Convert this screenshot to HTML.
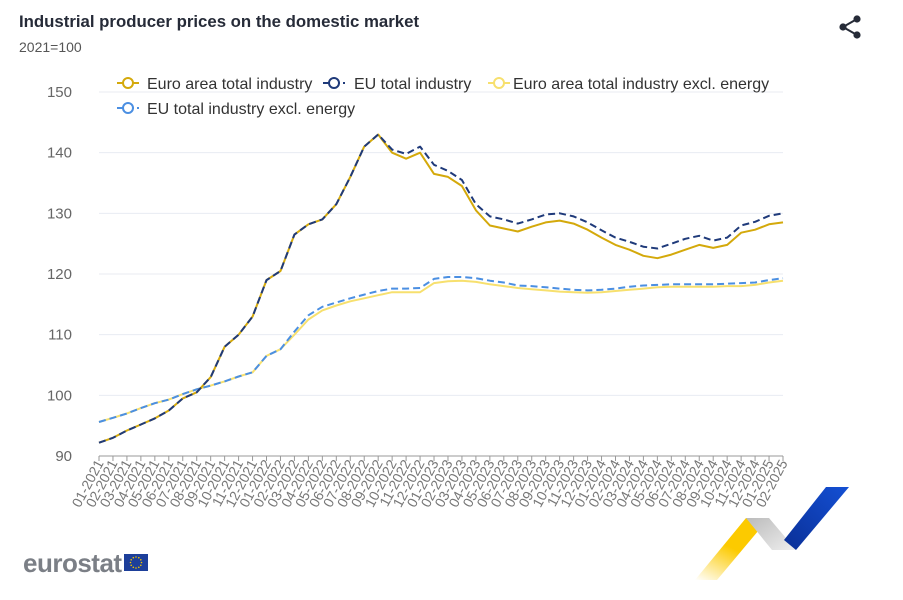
<!DOCTYPE html>
<html><head><meta charset="utf-8"><style>
html,body{margin:0;padding:0;background:#fff;width:903px;height:600px;overflow:hidden;font-family:"Liberation Sans",sans-serif}
</style></head><body>
<svg id="c" width="903" height="600" xmlns="http://www.w3.org/2000/svg" style="position:absolute;left:0;top:0">
<text x="19" y="27" font-size="16.8" font-weight="bold" fill="#262b38">Industrial producer prices on the domestic market</text>
<text x="19" y="52" font-size="14" fill="#555">2021=100</text>
<g fill="#262b38"><circle cx="843" cy="27" r="3.6"/><circle cx="857" cy="19" r="3.6"/><circle cx="857" cy="35" r="3.6"/></g>
<path d="M843 27L857 19M843 27L857 35" stroke="#262b38" stroke-width="2"/>
<g id="grid"></g>
<g id="series"></g>
<g font-size="16" fill="#333">
<path d="M117 83h22" stroke="#d4a90b" stroke-width="2"/><circle cx="128" cy="83" r="5" fill="#fff" stroke="#d4a90b" stroke-width="2"/>
<text x="147" y="89">Euro area total industry</text>
<path d="M323 83h22" stroke="#1f3a7a" stroke-width="2" stroke-dasharray="7,3"/><circle cx="334" cy="83" r="5" fill="#fff" stroke="#1f3a7a" stroke-width="2"/>
<text x="354" y="89">EU total industry</text>
<path d="M488 83h22" stroke="#f7e06e" stroke-width="2"/><circle cx="499" cy="83" r="5" fill="#fff" stroke="#f7e06e" stroke-width="2"/>
<text x="513" y="89">Euro area total industry excl. energy</text>
<path d="M117 108h22" stroke="#4b8fe2" stroke-width="2" stroke-dasharray="7,3"/><circle cx="128" cy="108" r="5" fill="#fff" stroke="#4b8fe2" stroke-width="2"/>
<text x="147" y="114">EU total industry excl. energy</text>
</g>
<text x="23" y="572" font-size="26" font-weight="bold" fill="#7b7f86" letter-spacing="-0.5">eurostat</text>
<rect x="124" y="554" width="24" height="17" fill="#1d3f9a"/>
<g id="stars" fill="#f2c500"></g>
<defs>
<linearGradient id="gy" x1="0" y1="1" x2="0.6" y2="0"><stop offset="0" stop-color="#fff"/><stop offset="0.6" stop-color="#fcca00"/></linearGradient>
<linearGradient id="gg" x1="0" y1="0" x2="1" y2="1"><stop offset="0" stop-color="#bbb"/><stop offset="1" stop-color="#eee"/></linearGradient>
<linearGradient id="gb" x1="0" y1="1" x2="1" y2="0"><stop offset="0" stop-color="#0a2f96"/><stop offset="1" stop-color="#1450d4"/></linearGradient>
</defs>
<polygon points="695,580 717,580 769,518 746,518" fill="url(#gy)"/>
<polygon points="746,518 769,518 796,550 772,550" fill="url(#gg)"/>
<polygon points="784,540 826,487 849,487 796,550" fill="url(#gb)"/>
</svg>
<script>
var x0=99,x1=783,n=50,st=(x1-x0)/(n-1);
function Y(v){return 456-(v-90)*6.0667}
var g='';
for(var v=90;v<=150;v+=10){var y=Y(v);if(v>90)g+='<line x1="99" x2="783" y1="'+y+'" y2="'+y+'" stroke="#e8ebf2" stroke-width="1"/>';
g+='<text x="72" y="'+(y+5)+'" font-size="15" fill="#666" text-anchor="end">'+v+'</text>';}
g+='<line x1="99" x2="783" y1="456" y2="456" stroke="#999"/>';
for(var i=0;i<n;i++){var x=x0+i*st;g+='<line x1="'+x+'" x2="'+x+'" y1="456" y2="461" stroke="#999"/>';
var m=i%12+1,yr=2021+Math.floor(i/12);var l=(m<10?'0':'')+m+'-'+yr;
g+='<text transform="translate('+(x+5)+',463) rotate(-62)" font-size="14" fill="#777" text-anchor="end">'+l+'</text>';}
document.getElementById('grid').innerHTML=g;
var eu=[92.2,93,94.2,95.2,96.2,97.5,99.5,100.5,103,108,110,113,119,120.5,126.5,128.2,129,131.5,136,141,143,140.5,139.8,141,138,137,135.5,131.5,129.5,129,128.3,129,129.8,130,129.5,128.5,127.2,126,125.3,124.5,124.2,125,125.8,126.3,125.5,126,128,128.6,129.6,130];
var ea=eu.slice(0,20).concat([143,140,139,140,136.5,136,134.5,130.5,128,127.5,127,127.8,128.5,128.8,128.3,127.3,126,124.8,124,123,122.6,123.2,124,124.8,124.3,124.8,126.8,127.3,128.2,128.5]);
var eux=[95.6,96.3,97,97.9,98.7,99.3,100.2,101,101.6,102.3,103.1,103.8,106.5,107.6,110.5,113.2,114.6,115.3,116,116.6,117.2,117.6,117.6,117.7,119.2,119.5,119.5,119.3,118.9,118.6,118.1,118,117.8,117.6,117.4,117.3,117.4,117.6,117.9,118.1,118.2,118.3,118.3,118.3,118.3,118.4,118.5,118.6,119,119.3];
var eax=eux.slice(0,14).concat([110,112.5,114,114.8,115.5,116,116.5,117,117,117,118.5,118.8,118.9,118.7,118.3,118,117.7,117.5,117.3,117.1,117,116.9,117,117.2,117.4,117.6,117.8,117.9,117.9,117.9,117.9,118,118,118.2,118.6,118.9]);
function P(a,c,d){var s='M';for(var i=0;i<a.length;i++)s+=(x0+i*st).toFixed(1)+' '+Y(a[i]).toFixed(1)+(i<a.length-1?' L':'');
return '<path d="'+s+'" fill="none" stroke="'+c+'" stroke-width="2"'+(d?' stroke-dasharray="7,4"':'')+' stroke-linejoin="round"/>';}
document.getElementById('series').innerHTML=P(eax,'#f7e06e')+P(eux,'#4b8fe2',1)+P(ea,'#d4a90b')+P(eu,'#1f3a7a',1);
var s='';for(var k=0;k<12;k++){var a=k*Math.PI/6;s+='<circle cx="'+(136+5.5*Math.cos(a)).toFixed(1)+'" cy="'+(562.5+5.5*Math.sin(a)).toFixed(1)+'" r="0.8"/>';}
document.getElementById('stars').innerHTML=s;
</script>
</body></html>
